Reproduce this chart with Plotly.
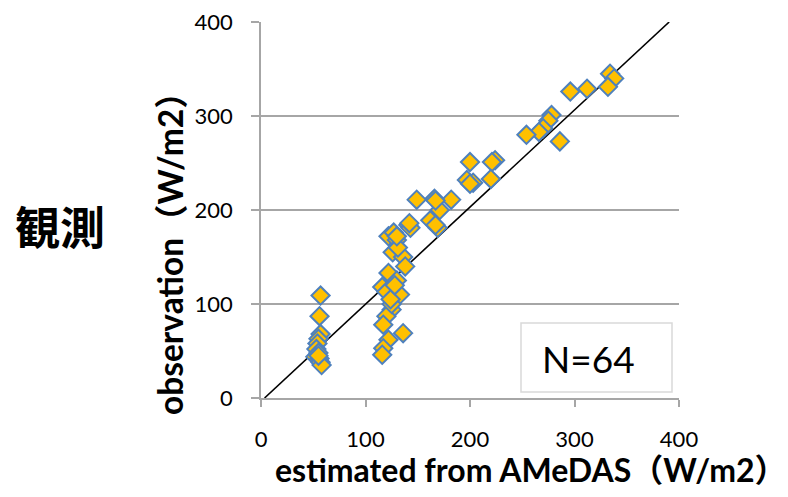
import plotly.graph_objects as go

# Estimated (x) vs observed (y) solar radiation, W/m2
est_x = [57, 56, 57, 55, 54, 53, 55, 52, 56, 57, 58, 55,
         122, 130, 127, 126, 136, 138, 122, 130, 116, 120, 133, 125, 120, 117, 136, 122, 117, 116, 125, 131, 124, 128,
         334, 338, 332, 312, 296, 278, 275, 270, 266, 254, 286, 224, 221, 200, 220, 197, 203, 182, 166, 149, 171, 162,
         169, 141, 143, 167, 130, 200, 167, 142]
obs_y = [109, 87, 68, 63, 58, 52, 48, 44, 42, 38, 35, 45,
         172, 168, 176, 155, 150, 140, 133, 125, 118, 113, 110, 94, 87, 78, 69, 62, 53, 46, 100, 160, 105, 120,
         345, 340, 331, 329, 326, 301, 295, 287, 283, 280, 273, 253, 251, 251, 233, 232, 229, 211, 212, 211, 200, 189,
         181, 184, 181, 184, 172, 228, 210, 186]

line_x = [3.4, 390.6]
line_y = [0, 400]

tick_vals = [0, 100, 200, 300, 400]
tick_text = ["0", "100", "200", "300", "400"]

x_title = "estimated from AMeDAS（W/m2）"
y_title = "observation（W/m2）"
side_label = "観測"
n_label = "N=64"

FONT = "Lato, 'Noto Sans CJK JP', sans-serif"

fig = go.Figure()
fig.add_trace(go.Scatter(
    x=line_x, y=line_y, mode="lines",
    line=dict(color="black", width=1.6), hoverinfo="skip", showlegend=False))
fig.add_trace(go.Scatter(
    x=est_x, y=obs_y, mode="markers",
    marker=dict(symbol="diamond", size=14, color="#FFC000",
                line=dict(color="#4F81BD", width=2)),
    showlegend=False, cliponaxis=False))

fig.update_layout(
    width=788, height=497,
    margin=dict(l=253, r=117, t=14, b=107),
    paper_bgcolor="white", plot_bgcolor="white",
    font=dict(family=FONT, color="black", size=22),
    showlegend=False,
)
fig.update_xaxes(
    range=[0, 400], tickvals=tick_vals, ticktext=tick_text,
    showgrid=False, zeroline=False, automargin=False,
    showline=True, linecolor="#A6A6A6", linewidth=1.5,
    ticks="outside", ticklen=7, tickcolor="#A6A6A6", tickwidth=1.5,
    ticklabelstandoff=14, ticklabeloverflow="allow",
    tickfont=dict(size=22, family=FONT, color="black"),
)
fig.update_yaxes(
    range=[0, 400], tickvals=tick_vals, ticktext=tick_text,
    showgrid=True, gridcolor="#A6A6A6", gridwidth=1.5, zeroline=False, automargin=False,
    showline=True, linecolor="#A6A6A6", linewidth=1.5,
    ticks="outside", ticklen=8, tickcolor="#A6A6A6", tickwidth=1.5,
    ticklabelstandoff=14, ticklabeloverflow="allow",
    tickfont=dict(size=22, family=FONT, color="black"),
)

fig.add_annotation(
    text="<b>" + x_title + "</b>", xref="paper", yref="paper",
    x=(531 - 261) / 418, y=-(469 - 398) / 376, xanchor="center", yanchor="middle",
    showarrow=False, font=dict(size=32, family=FONT, color="black"))
fig.add_annotation(
    text="<b>" + y_title + "</b>", xref="paper", yref="paper",
    x=-(261 - 170) / 418, y=(398 - 245) / 376, xanchor="center", yanchor="middle",
    textangle=-90, showarrow=False, font=dict(size=33.5, family=FONT, color="black"))
fig.add_annotation(
    text="<b>" + side_label + "</b>", xref="paper", yref="paper",
    x=-(261 - 60) / 418, y=(398 - 225) / 376, xanchor="center", yanchor="middle",
    showarrow=False, font=dict(size=45, family="'Noto Sans CJK JP', sans-serif", color="black"))

# N label box
fig.add_shape(type="rect", xref="paper", yref="paper",
              x0=(521 - 261) / 418, x1=(672 - 261) / 418,
              y0=(398 - 392) / 376, y1=(398 - 323) / 376,
              line=dict(color="#D9D9D9", width=1.5), fillcolor="white", layer="above")
fig.add_annotation(
    text=n_label, xref="paper", yref="paper",
    x=(588 - 261) / 418, y=(398 - 358) / 376, xanchor="center", yanchor="middle",
    showarrow=False, font=dict(size=37, family=FONT, color="black"))

fig.write_html("out.html")
